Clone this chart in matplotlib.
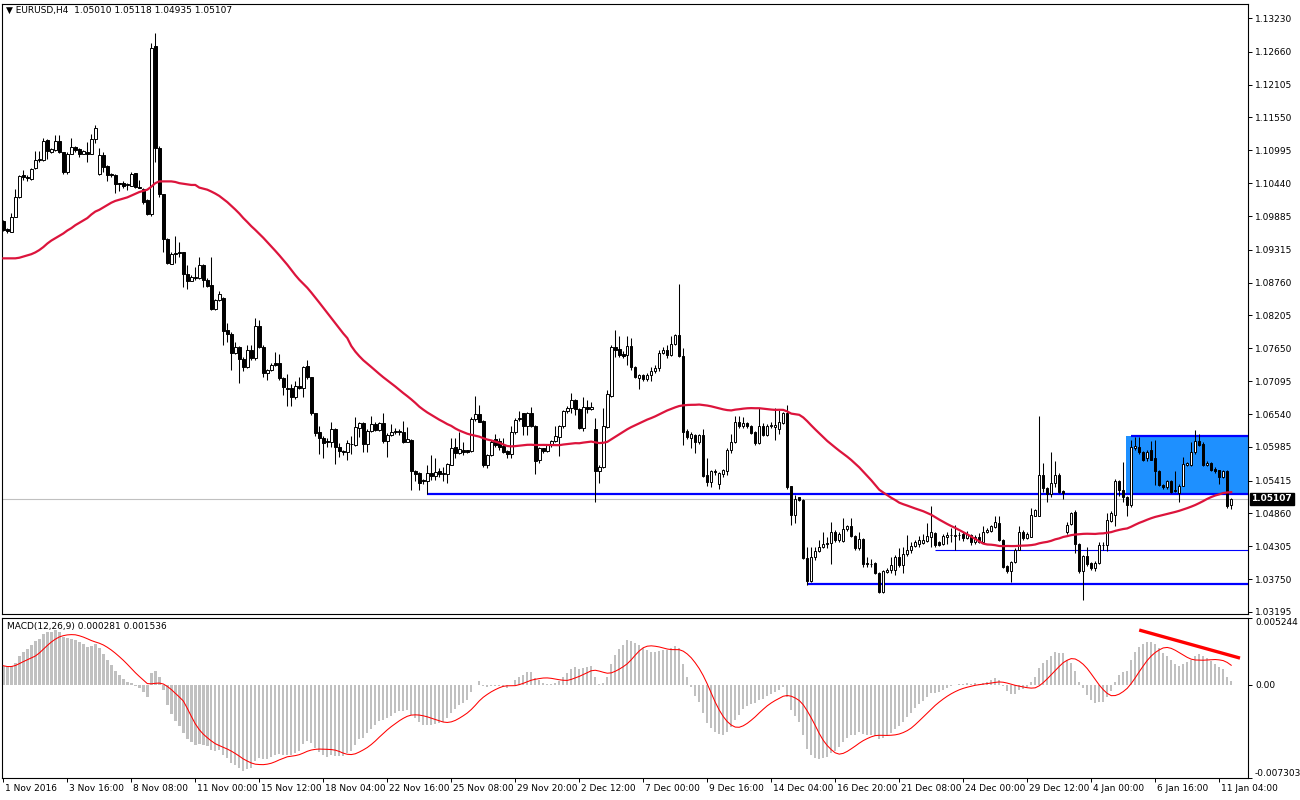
import matplotlib
matplotlib.use("Agg")
import matplotlib.pyplot as plt
from matplotlib.patches import Rectangle
from matplotlib.transforms import ScaledTranslation
import numpy as np
import pandas as pd

# EURUSD H4 bars, 1 Nov 2016 - 11 Jan 2017
opens = [
    1.0980, 1.0966, 1.0962, 1.0987, 1.1020, 1.1057, 1.1055, 1.1051, 1.1069, 1.1083,
    1.1083, 1.1117, 1.1097, 1.1100, 1.1115, 1.1096, 1.1063, 1.1094, 1.1105, 1.1101,
    1.1094, 1.1097, 1.1094, 1.1119, 1.1059, 1.1092, 1.1073, 1.1060, 1.1058, 1.1044,
    1.1044, 1.1041, 1.1040, 1.1061, 1.1038, 1.1034, 1.1016, 1.0992, 1.1276, 1.1104,
    1.1025, 1.0950, 1.0908, 1.0926, 1.0927, 1.0927, 1.0890, 1.0879, 1.0886, 1.0884,
    1.0906, 1.0881, 1.0872, 1.0832, 1.0846, 1.0850, 1.0796, 1.0790, 1.0757, 1.0767,
    1.0747, 1.0733, 1.0762, 1.0748, 1.0803, 1.0768, 1.0723, 1.0728, 1.0740, 1.0740,
    1.0714, 1.0698, 1.0698, 1.0682, 1.0702, 1.0698, 1.0735, 1.0716, 1.0655, 1.0624,
    1.0614, 1.0608, 1.0606, 1.0628, 1.0599, 1.0592, 1.0590, 1.0603, 1.0602, 1.0631,
    1.0638, 1.0604, 1.0626, 1.0637, 1.0627, 1.0638, 1.0609, 1.0619, 1.0623, 1.0626,
    1.0624, 1.0607, 1.0610, 1.0558, 1.0554, 1.0543, 1.0541, 1.0555, 1.0550, 1.0557,
    1.0553, 1.0553, 1.0568, 1.0599, 1.0588, 1.0594, 1.0593, 1.0591, 1.0645, 1.0654,
    1.0642, 1.0567, 1.0585, 1.0611, 1.0609, 1.0600, 1.0592, 1.0586, 1.0624, 1.0645,
    1.0655, 1.0633, 1.0655, 1.0634, 1.0576, 1.0596, 1.0592, 1.0601, 1.0608, 1.0615,
    1.0633, 1.0659, 1.0664, 1.0678, 1.0662, 1.0630, 1.0666, 1.0662, 1.0629, 1.0558,
    1.0565, 1.0632, 1.0685, 1.0768, 1.0763, 1.0755, 1.0753, 1.0769, 1.0733, 1.0714,
    1.0720, 1.0713, 1.0720, 1.0726, 1.0731, 1.0757, 1.0762, 1.0754, 1.0773, 1.0788,
    1.0752, 1.0625, 1.0614, 1.0618, 1.0606, 1.0619, 1.0551, 1.0539, 1.0558, 1.0536,
    1.0553, 1.0558, 1.0593, 1.0607, 1.0641, 1.0633, 1.0639, 1.0634, 1.0624, 1.0605,
    1.0634, 1.0619, 1.0633, 1.0632, 1.0628, 1.0639, 1.0655, 1.0532, 1.0483, 1.0513,
    1.0509, 1.0411, 1.0372, 1.0412, 1.0422, 1.0429, 1.0436, 1.0436, 1.0454, 1.0441,
    1.0440, 1.0459, 1.0465, 1.0448, 1.0427, 1.0442, 1.0402, 1.0401, 1.0402, 1.0385,
    1.0354, 1.0387, 1.0391, 1.0391, 1.0413, 1.0399, 1.0418, 1.0424, 1.0431, 1.0435,
    1.0436, 1.0440, 1.0447, 1.0453, 1.0437, 1.0434, 1.0447, 1.0449, 1.0448, 1.0449,
    1.0452, 1.0445, 1.0450, 1.0438, 1.0447, 1.0438, 1.0455, 1.0457, 1.0463, 1.0470,
    1.0441, 1.0397, 1.0388, 1.0404, 1.0425, 1.0454, 1.0444, 1.0447, 1.0482, 1.0482,
    1.0551, 1.0529, 1.0519, 1.0537, 1.0551, 1.0524, 1.0455, 1.0468, 1.0489, 1.0434,
    1.0388, 1.0414, 1.0402, 1.0393, 1.0402, 1.0433, 1.0433, 1.0474, 1.0483, 1.0540,
    1.0526, 1.0514, 1.0500, 1.0597, 1.0599, 1.0590, 1.0579, 1.0593, 1.0579, 1.0558,
    1.0534, 1.0531, 1.0540, 1.0526, 1.0521, 1.0533, 1.0568, 1.0568, 1.0589, 1.0608,
    1.0604, 1.0568, 1.0572, 1.0561, 1.0559, 1.0548, 1.0558, 1.05010,
]
highs = [
    1.0982, 1.0968, 1.0994, 1.1034, 1.1058, 1.1067, 1.1057, 1.1070, 1.1099, 1.1099,
    1.1121, 1.1119, 1.1103, 1.1125, 1.1125, 1.1097, 1.1096, 1.1120, 1.1107, 1.1103,
    1.1100, 1.1114, 1.1127, 1.1142, 1.1103, 1.1097, 1.1075, 1.1061, 1.1060, 1.1045,
    1.1048, 1.1044, 1.1063, 1.1062, 1.1050, 1.1035, 1.1018, 1.1281, 1.1298, 1.1106,
    1.1026, 1.0951, 1.0927, 1.0954, 1.0945, 1.0928, 1.0906, 1.0888, 1.0903, 1.0920,
    1.0907, 1.0883, 1.0920, 1.0848, 1.0861, 1.0852, 1.0807, 1.0792, 1.0775, 1.0769,
    1.0750, 1.0771, 1.0771, 1.0816, 1.0813, 1.0770, 1.0730, 1.0741, 1.0758, 1.0756,
    1.0716, 1.0722, 1.0705, 1.0710, 1.0717, 1.0735, 1.0745, 1.0717, 1.0656, 1.0633,
    1.0616, 1.0614, 1.0641, 1.0630, 1.0605, 1.0594, 1.0610, 1.0616, 1.0649, 1.0641,
    1.0640, 1.0628, 1.0650, 1.0641, 1.0641, 1.0656, 1.0622, 1.0637, 1.0630, 1.0628,
    1.0643, 1.0632, 1.0611, 1.0560, 1.0556, 1.0545, 1.0568, 1.0585, 1.0579, 1.0562,
    1.0565, 1.0572, 1.0613, 1.0613, 1.0624, 1.0606, 1.0594, 1.0649, 1.0684, 1.0669,
    1.0644, 1.0587, 1.0610, 1.0621, 1.0613, 1.0613, 1.0594, 1.0633, 1.0648, 1.0659,
    1.0656, 1.0658, 1.0666, 1.0636, 1.0598, 1.0597, 1.0602, 1.0610, 1.0634, 1.0636,
    1.0661, 1.0668, 1.0689, 1.0680, 1.0664, 1.0682, 1.0678, 1.0675, 1.0647, 1.0567,
    1.0664, 1.0695, 1.0770, 1.0796, 1.0785, 1.0760, 1.0785, 1.0782, 1.0735, 1.0722,
    1.0722, 1.0724, 1.0734, 1.0737, 1.0762, 1.0767, 1.0771, 1.0785, 1.0790, 1.0874,
    1.0765, 1.0628, 1.0623, 1.0620, 1.0620, 1.0628, 1.0579, 1.0560, 1.0561, 1.0556,
    1.0561, 1.0596, 1.0621, 1.0650, 1.0650, 1.0649, 1.0641, 1.0636, 1.0626, 1.0664,
    1.0638, 1.0637, 1.0640, 1.0664, 1.0661, 1.0658, 1.0669, 1.0533, 1.0517, 1.0514,
    1.0511, 1.0430, 1.0430, 1.0430, 1.0441, 1.0455, 1.0447, 1.0472, 1.0458, 1.0455,
    1.0478, 1.0467, 1.0478, 1.0450, 1.0455, 1.0444, 1.0413, 1.0409, 1.0404, 1.0387,
    1.0390, 1.0394, 1.0413, 1.0416, 1.0427, 1.0430, 1.0450, 1.0438, 1.0441, 1.0448,
    1.0452, 1.0470, 1.0499, 1.0455, 1.0439, 1.0452, 1.0454, 1.0461, 1.0467, 1.0455,
    1.0455, 1.0456, 1.0452, 1.0450, 1.0453, 1.0464, 1.0461, 1.0467, 1.0481, 1.0481,
    1.0443, 1.0399, 1.0406, 1.0427, 1.0464, 1.0458, 1.0455, 1.0495, 1.0494, 1.0651,
    1.0572, 1.0531, 1.0590, 1.0575, 1.0555, 1.0526, 1.0471, 1.0489, 1.0491, 1.0436,
    1.0416, 1.0430, 1.0404, 1.0405, 1.0438, 1.0438, 1.0486, 1.0490, 1.0545, 1.0543,
    1.0573, 1.0516, 1.0610, 1.0615, 1.0615, 1.0592, 1.0593, 1.0609, 1.0610, 1.0560,
    1.0536, 1.0543, 1.0543, 1.0557, 1.0536, 1.0582, 1.0573, 1.0607, 1.0627, 1.0620,
    1.0606, 1.0574, 1.0573, 1.0564, 1.0560, 1.0560, 1.0560, 1.05118,
]
lows = [
    1.0963, 1.0959, 1.0961, 1.0986, 1.1019, 1.1050, 1.1048, 1.1050, 1.1068, 1.1080,
    1.1082, 1.1084, 1.1095, 1.1098, 1.1095, 1.1060, 1.1060, 1.1093, 1.1097, 1.1088,
    1.1093, 1.1079, 1.1093, 1.1112, 1.1058, 1.1063, 1.1047, 1.1055, 1.1027, 1.1030,
    1.1035, 1.1033, 1.1039, 1.1036, 1.1035, 1.1009, 1.0990, 1.0989, 1.1080, 1.1021,
    1.0928, 1.0908, 1.0907, 1.0909, 1.0920, 1.0869, 1.0865, 1.0878, 1.0881, 1.0882,
    1.0869, 1.0869, 1.0830, 1.0830, 1.0845, 1.0771, 1.0775, 1.0728, 1.0755, 1.0707,
    1.0727, 1.0731, 1.0745, 1.0746, 1.0765, 1.0716, 1.0712, 1.0726, 1.0735, 1.0712,
    1.0686, 1.0667, 1.0667, 1.0679, 1.0696, 1.0683, 1.0713, 1.0652, 1.0617, 1.0586,
    1.0580, 1.0599, 1.0599, 1.0570, 1.0582, 1.0584, 1.0576, 1.0587, 1.0600, 1.0615,
    1.0590, 1.0589, 1.0624, 1.0625, 1.0625, 1.0605, 1.0582, 1.0617, 1.0620, 1.0618,
    1.0605, 1.0606, 1.0526, 1.0540, 1.0525, 1.0536, 1.0518, 1.0543, 1.0543, 1.0548,
    1.0540, 1.0537, 1.0567, 1.0579, 1.0586, 1.0585, 1.0588, 1.0589, 1.0643, 1.0640,
    1.0564, 1.0562, 1.0583, 1.0599, 1.0593, 1.0588, 1.0580, 1.0579, 1.0620, 1.0643,
    1.0619, 1.0619, 1.0632, 1.0552, 1.0572, 1.0588, 1.0590, 1.0599, 1.0606, 1.0583,
    1.0631, 1.0656, 1.0656, 1.0653, 1.0628, 1.0626, 1.0656, 1.0661, 1.0505, 1.0537,
    1.0563, 1.0630, 1.0683, 1.0750, 1.0750, 1.0748, 1.0737, 1.0728, 1.0715, 1.0697,
    1.0710, 1.0709, 1.0709, 1.0724, 1.0726, 1.0755, 1.0748, 1.0752, 1.0771, 1.0750,
    1.0602, 1.0612, 1.0596, 1.0588, 1.0604, 1.0548, 1.0533, 1.0531, 1.0551, 1.0527,
    1.0548, 1.0551, 1.0588, 1.0605, 1.0630, 1.0630, 1.0630, 1.0620, 1.0602, 1.0603,
    1.0617, 1.0617, 1.0630, 1.0610, 1.0620, 1.0637, 1.0528, 1.0467, 1.0470, 1.0507,
    1.0409, 1.0365, 1.0370, 1.0408, 1.0421, 1.0427, 1.0427, 1.0401, 1.0438, 1.0438,
    1.0438, 1.0457, 1.0446, 1.0424, 1.0424, 1.0396, 1.0396, 1.0396, 1.0383, 1.0351,
    1.0351, 1.0385, 1.0385, 1.0382, 1.0396, 1.0385, 1.0414, 1.0419, 1.0429, 1.0430,
    1.0434, 1.0438, 1.0430, 1.0430, 1.0431, 1.0432, 1.0434, 1.0438, 1.0424, 1.0441,
    1.0440, 1.0442, 1.0433, 1.0435, 1.0436, 1.0436, 1.0453, 1.0454, 1.0461, 1.0440,
    1.0393, 1.0385, 1.0371, 1.0402, 1.0424, 1.0441, 1.0442, 1.0446, 1.0481, 1.0481,
    1.0523, 1.0506, 1.0514, 1.0531, 1.0520, 1.0511, 1.0452, 1.0466, 1.0419, 1.0385,
    1.0340, 1.0398, 1.0390, 1.0388, 1.0400, 1.0424, 1.0422, 1.0472, 1.0464, 1.0515,
    1.0506, 1.0481, 1.0497, 1.0594, 1.0587, 1.0575, 1.0575, 1.0577, 1.0534, 1.0532,
    1.0528, 1.0528, 1.0521, 1.0522, 1.0506, 1.0532, 1.0566, 1.0566, 1.0587, 1.0600,
    1.0566, 1.0566, 1.0557, 1.0555, 1.0536, 1.0546, 1.0496, 1.04935,
]
closes = [
    1.0965, 1.0963, 1.0986, 1.1020, 1.1056, 1.1054, 1.1052, 1.1068, 1.1083, 1.1084,
    1.1116, 1.1099, 1.1101, 1.1115, 1.1096, 1.1063, 1.1094, 1.1105, 1.1100, 1.1094,
    1.1098, 1.1094, 1.1119, 1.1138, 1.1092, 1.1072, 1.1058, 1.1057, 1.1042, 1.1042,
    1.1040, 1.1043, 1.1059, 1.1037, 1.1036, 1.1013, 1.0992, 1.1273, 1.1104, 1.1025,
    1.0949, 1.0909, 1.0925, 1.0924, 1.0926, 1.0890, 1.0879, 1.0886, 1.0884, 1.0905,
    1.0881, 1.0871, 1.0831, 1.0846, 1.0857, 1.0795, 1.0790, 1.0757, 1.0768, 1.0747,
    1.0733, 1.0762, 1.0748, 1.0803, 1.0768, 1.0724, 1.0728, 1.0737, 1.0736, 1.0714,
    1.0699, 1.0697, 1.0682, 1.0701, 1.0698, 1.0734, 1.0716, 1.0655, 1.0622, 1.0613,
    1.0605, 1.0606, 1.0628, 1.0599, 1.0591, 1.0589, 1.0605, 1.0604, 1.0632, 1.0638,
    1.0604, 1.0626, 1.0637, 1.0627, 1.0638, 1.0609, 1.0619, 1.0624, 1.0625, 1.0623,
    1.0607, 1.0612, 1.0557, 1.0552, 1.0538, 1.0540, 1.0554, 1.0550, 1.0556, 1.0553,
    1.0554, 1.0570, 1.0596, 1.0588, 1.0595, 1.0590, 1.0590, 1.0645, 1.0654, 1.0641,
    1.0567, 1.0585, 1.0606, 1.0602, 1.0599, 1.0589, 1.0586, 1.0624, 1.0644, 1.0648,
    1.0633, 1.0655, 1.0634, 1.0575, 1.0596, 1.0592, 1.0601, 1.0608, 1.0616, 1.0633,
    1.0659, 1.0664, 1.0678, 1.0662, 1.0630, 1.0665, 1.0663, 1.0665, 1.0558, 1.0565,
    1.0633, 1.0688, 1.0768, 1.0762, 1.0754, 1.0752, 1.0769, 1.0733, 1.0716, 1.0720,
    1.0713, 1.0720, 1.0726, 1.0732, 1.0757, 1.0762, 1.0754, 1.0773, 1.0788, 1.0752,
    1.0624, 1.0615, 1.0620, 1.0606, 1.0619, 1.0550, 1.0539, 1.0558, 1.0556, 1.0554,
    1.0559, 1.0593, 1.0607, 1.0641, 1.0633, 1.0639, 1.0633, 1.0622, 1.0605, 1.0634,
    1.0619, 1.0633, 1.0635, 1.0635, 1.0641, 1.0655, 1.0531, 1.0483, 1.0511, 1.0509,
    1.0411, 1.0372, 1.0413, 1.0423, 1.0430, 1.0435, 1.0434, 1.0454, 1.0441, 1.0451,
    1.0460, 1.0465, 1.0448, 1.0427, 1.0442, 1.0401, 1.0400, 1.0400, 1.0385, 1.0354,
    1.0388, 1.0391, 1.0399, 1.0413, 1.0399, 1.0418, 1.0424, 1.0431, 1.0437, 1.0441,
    1.0441, 1.0448, 1.0454, 1.0433, 1.0433, 1.0448, 1.0450, 1.0450, 1.0449, 1.0450,
    1.0444, 1.0452, 1.0438, 1.0447, 1.0438, 1.0455, 1.0458, 1.0464, 1.0471, 1.0441,
    1.0396, 1.0388, 1.0404, 1.0425, 1.0454, 1.0444, 1.0452, 1.0483, 1.0492, 1.0551,
    1.0529, 1.0519, 1.0537, 1.0551, 1.0523, 1.0521, 1.0467, 1.0486, 1.0434, 1.0388,
    1.0414, 1.0401, 1.0393, 1.0402, 1.0433, 1.0432, 1.0475, 1.0486, 1.0540, 1.0526,
    1.0514, 1.0500, 1.0598, 1.0600, 1.0589, 1.0577, 1.0590, 1.0577, 1.0557, 1.0534,
    1.0531, 1.0540, 1.0523, 1.0524, 1.0533, 1.0569, 1.0571, 1.0589, 1.0608, 1.0602,
    1.0568, 1.0572, 1.0559, 1.0558, 1.0548, 1.0558, 1.0499, 1.05107,
]

# moving average (50) as drawn for the first bars, before enough history exists
ma_head = [
    1.0917, 1.0917, 1.0917, 1.0917, 1.0918, 1.0920, 1.0922, 1.0924, 1.0927, 1.0931,
    1.0936, 1.0942, 1.0947, 1.0951, 1.0955, 1.0959, 1.0964, 1.0968, 1.0973, 1.0977,
    1.0981, 1.0985, 1.0991, 1.0996, 1.0999, 1.1003, 1.1007, 1.1011, 1.1014, 1.1016,
    1.1018, 1.1020, 1.1023, 1.1026, 1.1029, 1.1031, 1.1033, 1.1038, 1.1044, 1.1047,
    1.1047, 1.1047, 1.1047, 1.1046, 1.1044, 1.1043, 1.1042, 1.1041, 1.1041,
]
ma_period = 50
macd_first_value = 0.0015   # MACD main at first bar

time_labels = [
    "1 Nov 2016", "3 Nov 16:00", "8 Nov 08:00", "11 Nov 00:00", "15 Nov 12:00",
    "18 Nov 04:00", "22 Nov 16:00", "25 Nov 08:00", "29 Nov 20:00", "2 Dec 12:00",
    "7 Dec 00:00", "9 Dec 16:00", "14 Dec 04:00", "16 Dec 20:00", "21 Dec 08:00",
    "24 Dec 00:00", "29 Dec 12:00", "4 Jan 00:00", "6 Jan 16:00", "11 Jan 04:00",
]
bars_per_label = 16

price_ticks = [1.13230, 1.12660, 1.12105, 1.11550, 1.10995, 1.10440, 1.09885,
               1.09315, 1.08760, 1.08205, 1.07650, 1.07095, 1.06540, 1.05985,
               1.05415, 1.04860, 1.04305, 1.03750, 1.03195]
macd_ticks = [0.005244, 0.0, -0.007303]
macd_tick_labels = ["0.005244", "0.00", "-0.007303"]

# hand drawn objects: level price, first bar, width
level_prices = [1.0518, 1.0366, 1.0424, 1.0617]
level_start = [106, 201, 233, 282]
level_width = [1.6, 1.6, 0.8, 1.6]
box_start, box_low, box_high = 280.8, 1.0518, 1.0617
trend_bars = [284, 309.2]
trend_values = [0.0043, 0.0021]

o = np.array(opens)
h = np.array(highs)
l = np.array(lows)
c = np.array(closes)
x = np.arange(len(c))

ma = pd.Series(c).rolling(ma_period).mean().to_numpy()
ma[:len(ma_head)] = ma_head


def ema(values, span, start):
    k = 2.0 / (span + 1)
    out = np.empty(len(values))
    out[0] = start
    for i in range(1, len(values)):
        out[i] = out[i - 1] + k * (values[i] - out[i - 1])
    return out


macd = ema(c, 12, c[0]) - ema(c, 26, c[0] - macd_first_value)
signal = pd.Series(macd).rolling(9, min_periods=1).mean().to_numpy()

XMIN, XMAX = -0.33, 311.2

fig = plt.figure(figsize=(13, 8), dpi=100)
fig.patch.set_facecolor("white")
left, right = 2 / 1300, 1248 / 1300
ax = fig.add_axes([left, 1 - 614 / 800, right - left, 610 / 800])
axm = fig.add_axes([left, 1 - 778 / 800, right - left, 160 / 800])

# main window
ax.add_patch(Rectangle((box_start, box_low), XMAX - box_start, box_high - box_low,
                       facecolor="#1E90FF", edgecolor="none", zorder=1))
ax.axhline(c[-1], color="#C0C0C0", lw=0.8, zorder=1.5)
for p, s, w in zip(level_prices, level_start, level_width):
    ax.hlines(p, s, XMAX, color="#0000FF", lw=w, zorder=2)

up = c >= o
ax.vlines(x, l, h, color="black", lw=0.75, zorder=3)
ax.bar(x, c - o, bottom=o, width=0.62, color=np.where(up, "white", "black"),
       edgecolor="black", linewidth=0.7, zorder=4)
ax.plot(x, ma, color="#DC143C", lw=1.6, zorder=5)

ax.set_xlim(XMIN, XMAX)
ax.set_ylim(1.03161, 1.13467)
ax.yaxis.tick_right()
ax.set_yticks(price_ticks)
ax.set_yticklabels([f"{v:.5f}" for v in price_ticks])
ax.tick_params(axis="y", direction="out", length=3, width=0.7, pad=2, labelsize=6.5)
ax.tick_params(axis="x", bottom=False, labelbottom=False)
for s in ax.spines.values():
    s.set_linewidth(0.8)

ax.annotate(f"{c[-1]:.5f}", xy=(1, c[-1]), xycoords=("axes fraction", "data"),
            xytext=(2.5, 0), textcoords="offset points", va="center", ha="left",
            color="white", fontsize=6.5, fontweight="bold",
            bbox=dict(boxstyle="square,pad=0.2", fc="black", ec="black"))

fig.text(6 / 1300, 1 - 10 / 800,
         f"\u25bc EURUSD,H4  {o[-1]:.5f} {h[-1]:.5f} {l[-1]:.5f} {c[-1]:.5f}",
         fontsize=6.5, va="center", ha="left")

# MACD window
axm.bar(x, macd, width=0.6, color="#C0C0C0", zorder=2)
axm.plot(x, signal, color="#FF0000", lw=0.75, zorder=3)
axm.plot(trend_bars, trend_values, color="#FF0000", lw=2.4, zorder=4,
         solid_capstyle="butt")
axm.set_xlim(XMIN, XMAX)
axm.set_ylim(macd_ticks[-1], macd_ticks[0])
axm.yaxis.tick_right()
axm.set_yticks(macd_ticks)
axm.set_yticklabels(macd_tick_labels)
axm.tick_params(axis="y", direction="out", length=3, width=0.7, pad=2, labelsize=6.5)
ylabels = axm.get_yticklabels()
ylabels[0].set_va("top")
ylabels[-1].set_va("bottom")

axm.set_xticks(np.arange(len(time_labels)) * bars_per_label)
axm.set_xticklabels(time_labels)
axm.tick_params(axis="x", direction="out", length=3, width=0.7, pad=1.5, labelsize=6.5)
shift = ScaledTranslation(2 / 100, 0, fig.dpi_scale_trans)
for lab in axm.get_xticklabels():
    lab.set_ha("left")
    lab.set_transform(lab.get_transform() + shift)
for s in axm.spines.values():
    s.set_linewidth(0.8)

axm.text(5 / 1246, 1 - 8 / 160, "MACD(12,26,9) 0.000281 0.001536",
         transform=axm.transAxes, fontsize=6.5, va="center", ha="left")

fig.savefig("out.png", dpi=100, facecolor="white")
